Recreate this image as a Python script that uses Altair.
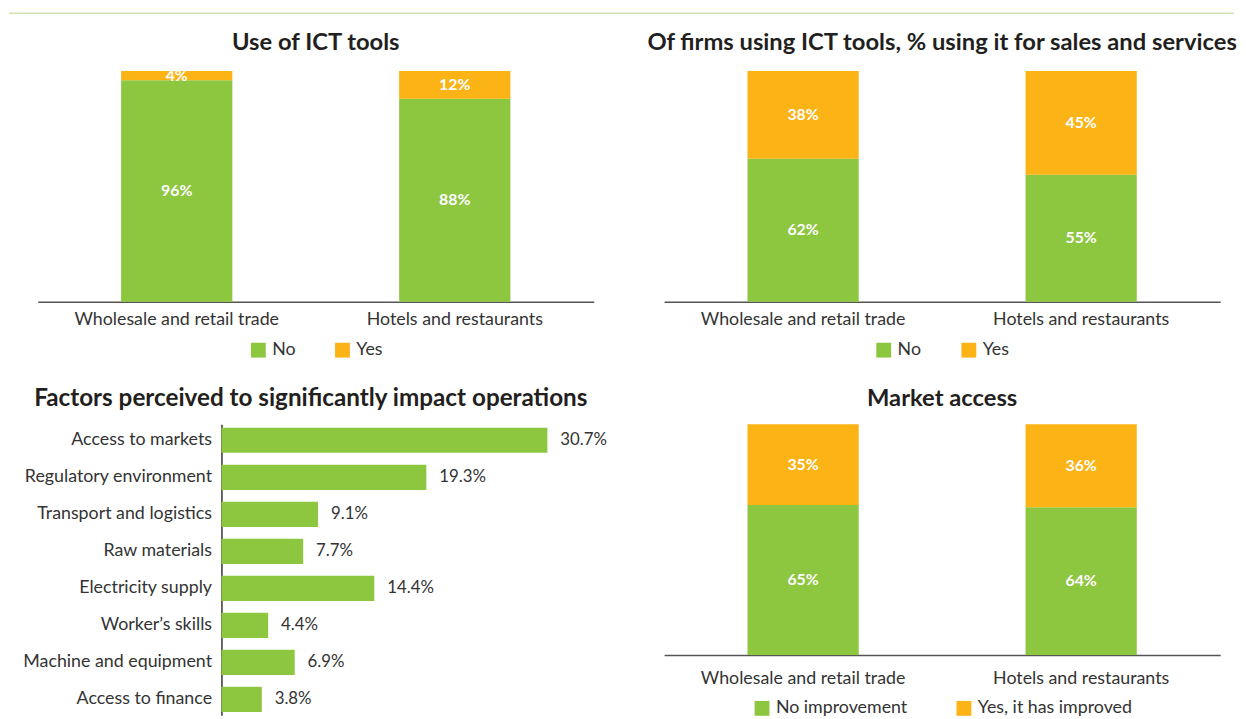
import altair as alt
import pandas as pd

GREEN = "#8dc63f"
ORANGE = "#fbb316"
TEXT = "#333333"
TITLE_C = "#231f20"
FONT = "Lato"

sectors = ["Wholesale and retail trade", "Hotels and restaurants"]

ict_no = [96, 88]
ict_yes = [4, 12]
sales_no = [62, 55]
sales_yes = [38, 45]
market_no = [65, 64]
market_yes = [35, 36]

ict_series = ["No", "Yes"]
market_series = ["No improvement", "Yes, it has improved"]

factors = [
    "Access to markets",
    "Regulatory environment",
    "Transport and logistics",
    "Raw materials",
    "Electricity supply",
    "Worker\u2019s skills",
    "Machine and equipment",
    "Access to finance",
]
factor_values = [30.7, 19.3, 9.1, 7.7, 14.4, 4.4, 6.9, 3.8]

W = 562
H = 233
H3 = 294
AX3 = 185.7


def stack_df(no_vals, yes_vals, series):
    rows = []
    for s, n, y in zip(sectors, no_vals, yes_vals):
        rows.append(dict(sector=s, series=series[0], lo=0, hi=n, mid=n / 2, label=f"{n}%"))
        rows.append(dict(sector=s, series=series[1], lo=n, hi=n + y, mid=n + y / 2, label=f"{y}%"))
    return pd.DataFrame(rows)


def title_params(text, offset, dx=0, size=24):
    return alt.TitleParams(
        text=text, font=FONT, fontSize=size, fontWeight="bold", color=TITLE_C,
        anchor="middle", frame="group", offset=offset, dx=dx,
    )


def stacked(no_vals, yes_vals, series, title, lx, ly, colpad, toff, lpad=9, extra=None):
    df = stack_df(no_vals, yes_vals, series)
    xenc = alt.X(
        "sector:N", sort=sectors,
        scale=alt.Scale(paddingInner=0.6, paddingOuter=0.3),
        axis=alt.Axis(title=None, labelAngle=0, ticks=False, domainColor="#555555",
                      domainWidth=1.5, labelFont=FONT, labelFontSize=18,
                      labelColor=TEXT, labelPadding=lpad, labelLimit=0),
    )
    color = alt.Color(
        "series:N",
        scale=alt.Scale(domain=series, range=[GREEN, ORANGE]),
        legend=alt.Legend(title=None, orient="none", legendX=lx, legendY=ly,
                          direction="horizontal", symbolType="square", symbolSize=225,
                          symbolStrokeWidth=0, labelFont=FONT, labelFontSize=18,
                          labelColor=TEXT, columnPadding=colpad, labelOffset=5,
                          padding=0, labelLimit=0),
    )
    bars = alt.Chart(df).mark_bar().encode(
        x=xenc,
        y=alt.Y("lo:Q", scale=alt.Scale(domain=[0, 100], nice=False), axis=None),
        y2="hi:Q",
        color=color,
    )
    labels = alt.Chart(df).mark_text(
        color="white", font=FONT, fontSize=16, fontWeight="bold", baseline="middle"
    ).encode(
        x=alt.X("sector:N", sort=sectors),
        y=alt.Y("mid:Q"),
        text="label:N",
    )
    layers = [bars, labels]
    if extra is not None:
        layers.append(extra)
    return alt.layer(*layers).properties(width=W, height=H, title=title_params(title, toff))


top_line = alt.Chart(pd.DataFrame({"k": [0]})).mark_rule(
    color="#cfe2b0", strokeWidth=1.5
).encode(x=alt.value(-29), x2=alt.value(1209), y=alt.value(-58.5))

p1 = stacked(ict_no, ict_yes, ict_series, "Use of ICT tools", 214, 273, 38, -42.7, extra=top_line)
p2 = stacked(sales_no, sales_yes, ict_series,
             "Of firms using ICT tools, % using it for sales and services", 213, 273, 39, 16.3)
p4 = stacked(market_no, market_yes, market_series, "Market access", 90, 278, 48, 14, lpad=15)

fdf = pd.DataFrame({
    "factor": factors,
    "value": factor_values,
    "label": [f"{v}%" for v in factor_values],
})
yenc = alt.Y(
    "factor:N", sort=factors,
    scale=alt.Scale(paddingInner=0.32, paddingOuter=0.09),
    axis=alt.Axis(title=None, offset=-AX3, ticks=False, domainColor="#333333",
                  domainWidth=1.5, labelFont=FONT, labelFontSize=18, labelColor=TEXT,
                  labelPadding=10, labelLimit=0),
)
xenc3 = alt.X("value:Q", scale=alt.Scale(domain=[0, 35], range=[AX3, 561.2], nice=False), axis=None)
fbars = alt.Chart(fdf).mark_bar(color=GREEN).encode(x=xenc3, y=yenc)
ftext = alt.Chart(fdf).mark_text(
    align="left", dx=13, font=FONT, fontSize=17, color=TEXT, baseline="middle"
).encode(x=alt.X("value:Q"), y=alt.Y("factor:N", sort=factors), text="label:N")
p3 = alt.layer(fbars, ftext).properties(
    width=W, height=H3,
    title=title_params("Factors perceived to significantly impact operations", 13.5, dx=-5, size=24.5),
)

chart = alt.concat(
    p1, p2, p3, p4, columns=2,
    spacing={"row": 124, "column": 71}, bounds="flush",
).resolve_scale(
    x="independent", y="independent", color="independent"
).properties(padding=0, background="white").configure_view(stroke=None)

chart.save("out.html", embed_options={"renderer": "svg", "actions": False})
